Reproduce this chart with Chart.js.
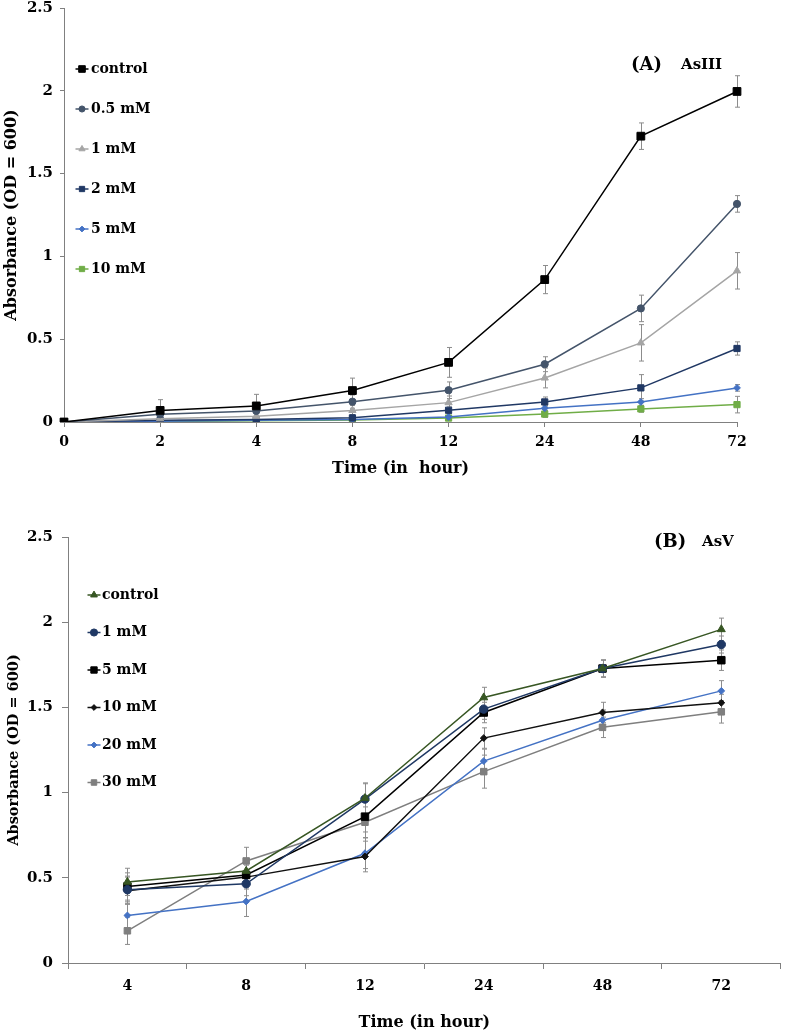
<!DOCTYPE html>
<html><head><meta charset="utf-8">
<script src="https://cdn.jsdelivr.net/npm/chart.js@4.4.1/dist/chart.umd.min.js"></script>
<style>html,body{margin:0;padding:0;background:#fff;}canvas{display:block;}</style>
</head><body>
<canvas id="ca" width="787" height="480"></canvas>
<canvas id="cb" width="787" height="556"></canvas>
<script>
// ---------- Panel A (AsIII) ----------
const timeLabelsA = ['0', '2', '4', '8', '12', '24', '48', '72'];
const namesA = ['control', '0.5 mM', '1 mM', '2 mM', '5 mM', '10 mM'];
const controlA = [0, 0.07, 0.097, 0.19, 0.36, 0.86, 1.726, 1.996];
const mM05A    = [0, 0.047, 0.067, 0.123, 0.192, 0.349, 0.686, 1.317];
const mM1A     = [0, 0.02, 0.035, 0.07, 0.117, 0.266, 0.478, 0.913];
const mM2A     = [0, 0.01, 0.015, 0.025, 0.071, 0.121, 0.206, 0.444];
const mM5A     = [0, 0.005, 0.01, 0.015, 0.03, 0.083, 0.121, 0.206];
const mM10A    = [0, 0.003, 0.008, 0.012, 0.024, 0.048, 0.079, 0.105];
const errControlA = [0, 0.065, 0.07, 0.075, 0.09, 0.085, 0.08, 0.095];
const errMM05A    = [0, 0.02, 0.03, 0.04, 0.05, 0.045, 0.08, 0.05];
const errMM1A     = [0, 0.01, 0.02, 0.03, 0.04, 0.06, 0.11, 0.11];
const errMM2A     = [0, 0.01, 0.01, 0.02, 0.02, 0.03, 0.08, 0.04];
const errMM5A     = [0, 0.005, 0.005, 0.01, 0.01, 0.015, 0.02, 0.02];
const errMM10A    = [0, 0.005, 0.005, 0.01, 0.01, 0.02, 0.02, 0.05];

// ---------- Panel B (AsV) ----------
const timeLabelsB = ['4', '8', '12', '24', '48', '72'];
const namesB = ['control', '1 mM', '5 mM', '10 mM', '20 mM', '30 mM'];
const controlB = [0.476, 0.54, 0.967, 1.558, 1.728, 1.958];
const mM1B     = [0.43, 0.465, 0.962, 1.49, 1.728, 1.869];
const mM5B     = [0.449, 0.517, 0.859, 1.47, 1.728, 1.777];
const mM10B    = [0.424, 0.504, 0.625, 1.32, 1.47, 1.527];
const mM20B    = [0.279, 0.361, 0.644, 1.185, 1.425, 1.597];
const mM30B    = [0.189, 0.599, 0.826, 1.123, 1.383, 1.474];
const errControlB = [0.08, 0.07, 0.09, 0.06, 0.05, 0.066];
const errMM1B     = [0.08, 0.07, 0.09, 0.06, 0.05, 0.05];
const errMM5B     = [0.08, 0.07, 0.09, 0.06, 0.05, 0.06];
const errMM10B    = [0.08, 0.07, 0.09, 0.06, 0.06, 0.05];
const errMM20B    = [0.08, 0.088, 0.09, 0.07, 0.06, 0.06];
const errMM30B    = [0.08, 0.08, 0.09, 0.097, 0.06, 0.066];

const yTitle = 'Absorbance (OD = 600)';
const xTitleA = 'Time (in  hour)';
const xTitleB = 'Time (in hour)';
const panelA = ['(A)', 'AsIII'];
const panelB = ['(B)', 'AsV'];

Chart.defaults.font.family = '"DejaVu Serif", serif';
Chart.defaults.color = '#000';

function fallbackPoint(ctx, style, r, x, y) {
  ctx.beginPath();
  if (style === 'circle') ctx.arc(x, y, r, 0, Math.PI * 2);
  else if (style === 'rect') { const s = r * Math.SQRT1_2; ctx.rect(x - s, y - s, 2 * s, 2 * s); }
  else if (style === 'triangle') { ctx.moveTo(x, y - r); ctx.lineTo(x + r * 0.866, y + r * 0.5); ctx.lineTo(x - r * 0.866, y + r * 0.5); ctx.closePath(); }
  else { ctx.moveTo(x, y - r); ctx.lineTo(x + r, y); ctx.lineTo(x, y + r); ctx.lineTo(x - r, y); ctx.closePath(); }
  ctx.fill(); ctx.stroke();
}

const errorBars = {
  id: 'errorBars',
  beforeDatasetsDraw(chart) {
    const ctx = chart.ctx, xs = chart.scales.x, ys = chart.scales.y;
    ctx.save();
    ctx.strokeStyle = '#8c8c8c';
    ctx.lineWidth = 1;
    chart.data.datasets.forEach(ds => {
      if (!ds.errors) return;
      ds.data.forEach((v, i) => {
        const e = ds.errors[i];
        if (!e) return;
        const x = Math.round(xs.getPixelForValue(i)) + 0.5;
        const yt = ys.getPixelForValue(v + e);
        const yb = ys.getPixelForValue(Math.max(0, v - e));
        ctx.beginPath();
        ctx.moveTo(x, yt); ctx.lineTo(x, yb);
        ctx.moveTo(x - 2.5, yt); ctx.lineTo(x + 2.5, yt);
        ctx.moveTo(x - 2.5, yb); ctx.lineTo(x + 2.5, yb);
        ctx.stroke();
      });
    });
    ctx.restore();
  }
};

const insideLegend = {
  id: 'insideLegend',
  afterDraw(chart, args, o) {
    const {ctx, chartArea} = chart;
    ctx.save();
    chart.data.datasets.forEach((ds, i) => {
      const y = chartArea.top + o.top + o.step * i;
      const mx = chartArea.left + o.markerX;
      ctx.strokeStyle = ds.borderColor;
      ctx.lineWidth = 1.5;
      ctx.beginPath(); ctx.moveTo(mx - 6.5, y); ctx.lineTo(mx + 6.5, y); ctx.stroke();
      ctx.fillStyle = ds.backgroundColor;
      ctx.lineWidth = 1;
      const r = ds.pointRadius * 0.85;
      if (Chart.helpers && Chart.helpers.drawPoint) {
        Chart.helpers.drawPoint(ctx, {pointStyle: ds.pointStyle, radius: r, rotation: 0, borderWidth: 1}, mx, y);
      } else {
        fallbackPoint(ctx, ds.pointStyle, r, mx, y);
      }
      ctx.fillStyle = '#000';
      ctx.font = 'bold 14px "DejaVu Serif"';
      ctx.textBaseline = 'middle';
      ctx.textAlign = 'left';
      ctx.fillText(ds.label, chartArea.left + o.textX, y);
    });
    ctx.restore();
  }
};

const panelLabel = {
  id: 'panelLabel',
  afterDraw(chart, args, o) {
    const ctx = chart.ctx;
    ctx.save();
    ctx.fillStyle = '#000';
    ctx.textBaseline = 'middle';
    ctx.textAlign = 'left';
    o.items.forEach(it => {
      ctx.font = 'bold ' + it.size + 'px "DejaVu Serif"';
      ctx.fillText(it.text, it.x, it.y);
    });
    ctx.restore();
  }
};

function ds(label, data, errors, color, style, radius) {
  return {
    label, data, errors,
    borderColor: color, backgroundColor: color,
    pointBackgroundColor: color, pointBorderColor: color,
    pointStyle: style, pointRadius: radius, pointBorderWidth: 1,
    borderWidth: 1.5, tension: 0, fill: false
  };
}

function makeOptions(c) {
  return {
    responsive: false, animation: false, devicePixelRatio: 1,
    layout: {padding: c.padding},
    plugins: {
      legend: {display: false}, tooltip: {enabled: false},
      insideLegend: c.legend,
      panelLabel: {items: c.labels}
    },
    scales: {
      x: {
        type: 'category', offset: c.offset,
        grid: {display: true, drawOnChartArea: false, drawTicks: true, tickLength: c.xTick, color: '#808080', offset: c.offset},
        border: {display: true, color: '#808080', width: 1},
        ticks: {font: {size: 14, weight: 'bold'}, color: '#000', padding: c.xTickPad, maxRotation: 0, autoSkip: false},
        title: {display: true, text: c.xTitle, font: {size: 16, weight: 'bold'}, color: '#000', padding: {top: 0, bottom: c.xTitlePad}},
        afterFit(s) { s.height = c.xHeight; }
      },
      y: {
        min: 0, max: 2.5,
        grid: {display: true, drawOnChartArea: false, drawTicks: true, tickLength: c.yTick, color: '#808080'},
        border: {display: true, color: '#808080', width: 1},
        ticks: {stepSize: 0.5, font: {size: 15, weight: 'bold'}, color: '#000', padding: c.yTickPad,
                callback: v => String(Math.round(v * 10) / 10)},
        title: {display: true, text: yTitle, font: {size: c.yTitleSize, weight: 'bold'}, color: '#000', padding: {top: c.yTitlePad, bottom: 0}},
        afterFit(s) { s.width = c.yWidth; s.paddingTop = 0; s.paddingBottom = 0; }
      }
    }
  };
}

new Chart(document.getElementById('ca'), {
  type: 'line',
  data: {
    labels: timeLabelsA,
    datasets: [
      ds(namesA[0], controlA, errControlA, '#000000', 'rect', 5.5),
      ds(namesA[1], mM05A, errMM05A, '#44546A', 'circle', 3.6),
      ds(namesA[2], mM1A, errMM1A, '#A5A5A5', 'triangle', 4.2),
      ds(namesA[3], mM2A, errMM2A, '#203864', 'rect', 4.4),
      ds(namesA[4], mM5A, errMM5A, '#4472C4', 'rectRot', 3.4),
      ds(namesA[5], mM10A, errMM10A, '#70AD47', 'rect', 4.4)
    ]
  },
  options: makeOptions({
    padding: {top: 8, right: 50, left: 0, bottom: 0},
    offset: false, xTick: 5, xTickPad: 7, xTitle: xTitleA, xTitlePad: 1.4, xHeight: 58,
    yTick: 4, yTickPad: 7, yTitleSize: 16, yTitlePad: 2.4, yWidth: 64,
    legend: {top: 61, step: 40, markerX: 18, textX: 27},
    labels: [
      {text: panelA[0], size: 18, x: 631, y: 65},
      {text: panelA[1], size: 15, x: 681, y: 65}
    ]
  }),
  plugins: [errorBars, insideLegend, panelLabel]
});

new Chart(document.getElementById('cb'), {
  type: 'line',
  data: {
    labels: timeLabelsB,
    datasets: [
      ds(namesB[0], controlB, errControlB, '#375623', 'triangle', 4.6),
      ds(namesB[1], mM1B, errMM1B, '#1F3864', 'circle', 4.2),
      ds(namesB[2], mM5B, errMM5B, '#000000', 'rect', 5.3),
      ds(namesB[3], mM10B, errMM10B, '#111111', 'rectRot', 3.4),
      ds(namesB[4], mM20B, errMM20B, '#4472C4', 'rectRot', 3.4),
      ds(namesB[5], mM30B, errMM30B, '#7F7F7F', 'rect', 4.6)
    ]
  },
  options: makeOptions({
    padding: {top: 57, right: 5, left: 0, bottom: 0},
    offset: true, xTick: 6, xTickPad: 9, xTitle: xTitleB, xTitlePad: 3.4, xHeight: 73,
    yTick: 6, yTickPad: 9, yTitleSize: 14.5, yTitlePad: 6, yWidth: 68,
    legend: {top: 58, step: 37.5, markerX: 26, textX: 34},
    labels: [
      {text: panelB[0], size: 18, x: 654, y: 62},
      {text: panelB[1], size: 15, x: 702, y: 62}
    ]
  }),
  plugins: [errorBars, insideLegend, panelLabel]
});
</script>
</body></html>
